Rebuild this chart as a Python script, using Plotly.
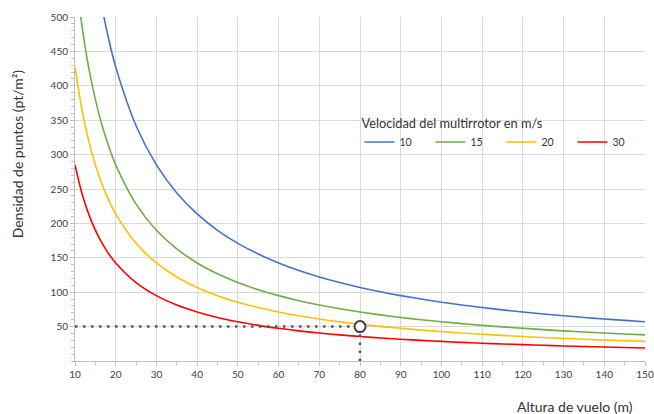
import plotly.graph_objects as go

alturas = [10, 12, 14, 16, 18, 20, 25, 30, 35, 40, 45, 50, 55, 60, 65, 70, 75, 80,
           85, 90, 95, 100, 105, 110, 115, 120, 125, 130, 135, 140, 145, 150]

v10 = [855, 712.5, 610.7, 534.4, 475, 427.5, 342, 285, 244.3, 213.8, 190, 171, 155.5,
       142.5, 131.5, 122.1, 114, 106.9, 100.6, 95, 90, 85.5, 81.4, 77.7, 74.3, 71.3,
       68.4, 65.8, 63.3, 61.1, 59, 57]
v15 = [570, 475, 407.1, 356.3, 316.7, 285, 228, 190, 162.9, 142.5, 126.7, 114, 103.6,
       95, 87.7, 81.4, 76, 71.3, 67.1, 63.3, 60, 57, 54.3, 51.8, 49.6, 47.5, 45.6, 43.8,
       42.2, 40.7, 39.3, 38]
v20 = [427.5, 356.3, 305.4, 267.2, 237.5, 213.8, 171, 142.5, 122.1, 106.9, 95, 85.5,
       77.7, 71.3, 65.8, 61.1, 57, 53.4, 50.3, 47.5, 45, 42.8, 40.7, 38.9, 37.2, 35.6,
       34.2, 32.9, 31.7, 30.5, 29.5, 28.5]
v30 = [285, 237.5, 203.6, 178.1, 158.3, 142.5, 114, 95, 81.4, 71.3, 63.3, 57, 51.8,
       47.5, 43.8, 40.7, 38, 35.6, 33.5, 31.7, 30, 28.5, 27.1, 25.9, 24.8, 23.8, 22.8,
       21.9, 21.1, 20.4, 19.7, 19]

series_names = ["10", "15", "20", "30"]
series_values = [v10, v15, v20, v30]
colors = ["#4472C4", "#70AD47", "#FFC000", "#FF0000"]

ref_x = [10, 80]
ref_y = [50, 50]
ref_vx = [80, 80]
ref_vy = [0, 50]
point_x = [80]
point_y = [50]

x_ticks = list(range(10, 151, 10))
y_ticks = list(range(50, 501, 50))

FONT = "Lato"
fig = go.Figure()

for name, vals, c in zip(series_names, series_values, colors):
    fig.add_trace(go.Scatter(x=alturas, y=vals, mode="lines", name=name,
                             line=dict(color=c, width=1.6, shape="spline")))

fig.add_trace(go.Scatter(x=ref_x, y=ref_y, mode="lines", showlegend=False,
                         line=dict(color="#555555", width=2.5, dash="2.5px,5.5px")))
fig.add_trace(go.Scatter(x=ref_vx, y=ref_vy, mode="lines", showlegend=False,
                         line=dict(color="#555555", width=2.5, dash="2.5px,5.5px")))
fig.add_trace(go.Scatter(x=point_x, y=point_y, mode="markers", showlegend=False,
                         marker=dict(symbol="circle", size=11, color="white",
                                     line=dict(color="#404040", width=2))))

fig.add_shape(type="rect", xref="paper", yref="paper", x0=0.442, x1=0.982,
              y0=0.584, y1=0.753, fillcolor="white", line=dict(width=0), layer="below")

fig.add_annotation(text="Altura de vuelo (m)", xref="paper", yref="paper",
                   x=0.982, y=-0.131, xanchor="right", yanchor="middle",
                   showarrow=False, font=dict(family=FONT, size=14, color="#333333"))
fig.add_annotation(text="Densidad de puntos (pt/m²)", xref="paper", yref="paper",
                   x=-0.101, y=0.602, xanchor="center", yanchor="middle", textangle=-90,
                   showarrow=False, font=dict(family=FONT, size=14, color="#333333"))

fig.update_layout(
    width=654, height=414,
    margin=dict(l=75, r=9, t=17, b=53, autoexpand=False),
    paper_bgcolor="white", plot_bgcolor="white",
    font=dict(family=FONT, color="#404040"),
    legend=dict(orientation="h", x=0.499, y=0.727, xanchor="left", yanchor="top",
                bgcolor="rgba(0,0,0,0)",
                title=dict(text="Velocidad del multirrotor en m/s", side="top",
                           font=dict(family=FONT, size=12.8, color="#333333")),
                font=dict(family=FONT, size=10.5, color="#333333"),
                entrywidth=26, itemwidth=30, tracegroupgap=0),
    xaxis=dict(range=[10, 150], tickvals=x_ticks, showgrid=True, gridcolor="#d9d9d9",
               gridwidth=1, showline=True, linecolor="#bfbfbf", linewidth=1,
               ticks="outside", ticklen=4, tickcolor="#bfbfbf", zeroline=False,
               automargin=False,
               tickfont=dict(family=FONT, size=10, color="#404040"),
               minor=dict(dtick=5, tick0=10, ticks="outside", ticklen=3,
                          tickcolor="#bfbfbf", showgrid=False)),
    yaxis=dict(range=[0, 500], tickvals=y_ticks, showgrid=True, gridcolor="#d9d9d9",
               gridwidth=1, showline=True, linecolor="#bfbfbf", linewidth=1,
               ticks="outside", ticklen=4, tickcolor="#bfbfbf", zeroline=False,
               automargin=False,
               tickfont=dict(family=FONT, size=10, color="#404040"),
               minor=dict(dtick=10, tick0=0, ticks="outside", ticklen=3,
                          tickcolor="#bfbfbf", showgrid=False)),
)

fig.write_html("out.html", config={"displayModeBar": False},
               post_script="document.body.style.margin='0';")
